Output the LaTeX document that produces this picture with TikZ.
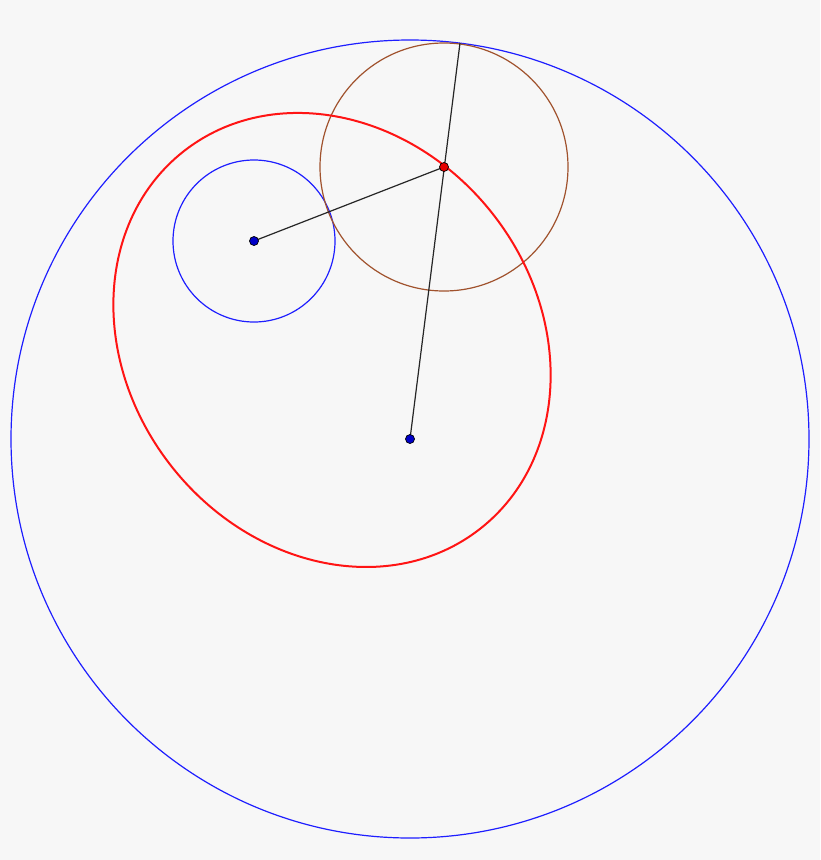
\documentclass[tikz,border=0pt]{standalone}
\definecolor{bgc}{RGB}{247,247,247}
\definecolor{bluec}{RGB}{30,30,255}
\definecolor{brownc}{RGB}{160,82,45}
\definecolor{redc}{RGB}{255,20,20}
\definecolor{bluefill}{RGB}{0,0,200}
\definecolor{redfill}{RGB}{230,0,0}
\begin{document}
\begin{tikzpicture}[x=1pt,y=-1pt,
  bluecirc/.style={draw=bluec,line width=1.2pt},
  browncirc/.style={draw=brownc,line width=1.2pt},
  redell/.style={draw=redc,line width=2pt},
  seg/.style={draw=black!85,line width=1.2pt},
  bluept/.style={circle,draw=black,fill=bluefill,inner sep=0pt,minimum size=9pt,line width=0.7pt},
  redpt/.style={circle,draw=black,fill=redfill,inner sep=0pt,minimum size=9pt,line width=0.7pt}]
\fill[bgc] (0,0) rectangle (820,860);
\useasboundingbox (0,0) rectangle (820,860);
\coordinate (O) at (410,439);
\coordinate (S) at (254,241);
\coordinate (P) at (444,167);
\coordinate (T) at (460,43);
\coordinate (E) at (332,340);
\draw[bluecirc] (O) circle[radius=399];
\draw[bluecirc] (S) circle[radius=81];
\draw[browncirc] (P) circle[radius=124];
\draw[redell,rotate around={-51.8:(E)}] (E) ellipse[x radius=240,y radius=204.3];
\draw[seg] (S) -- (P);
\draw[seg] (O) -- (T);
\node[bluept] (o) at (O) {};
\node[bluept] (s) at (S) {};
\node[redpt] (p) at (P) {};
\end{tikzpicture}
\end{document}
